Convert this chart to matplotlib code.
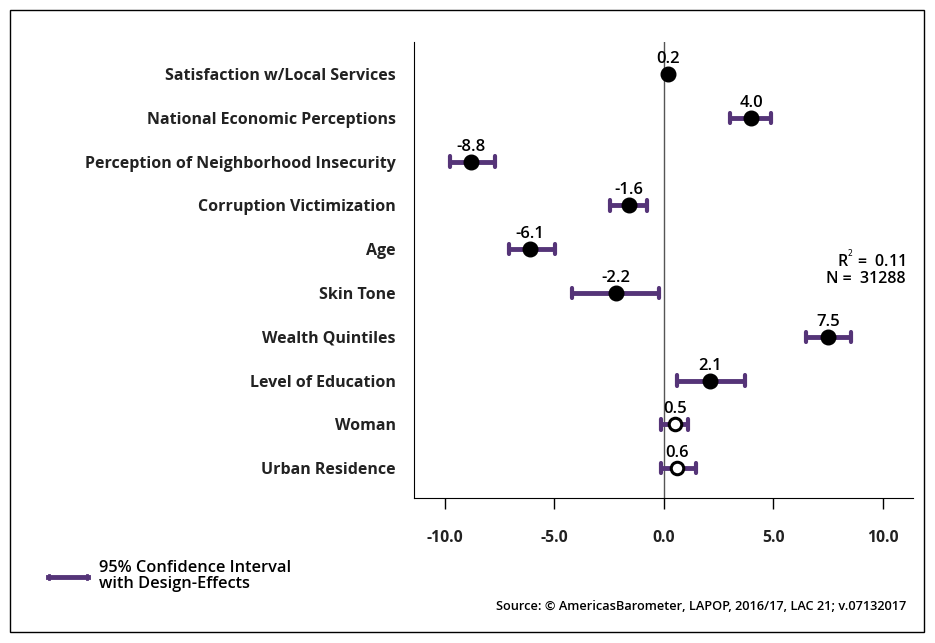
import matplotlib
matplotlib.use("Agg")
import matplotlib.pyplot as plt
from matplotlib.patches import Rectangle

plt.rcParams["font.family"] = ["Open Sans", "DejaVu Sans"]

variaveis = ["Satisfaction w/Local Services", "National Economic Perceptions",
             "Perception of Neighborhood Insecurity", "Corruption Victimization",
             "Age", "Skin Tone", "Wealth Quintiles", "Level of Education",
             "Woman", "Urban Residence"]
coef     = [0.2, 4.0, -8.8, -1.6, -6.1, -2.2, 7.5, 2.1, 0.5, 0.6]
ic_baixo = [0.2, 3.0, -9.74, -2.47, -7.08, -4.19, 6.48, 0.61, -0.15, -0.15]
ic_alto  = [0.2, 4.9, -7.7, -0.76, -4.95, -0.21, 8.54, 3.71, 1.10, 1.45]
significativo = [True, True, True, True, True, True, True, True, False, False]
ticks_x = [-10.0, -5.0, 0.0, 5.0, 10.0]

roxo = "#553478"

fig = plt.figure(figsize=(9.35, 6.43), dpi=100)
ax = fig.add_axes([414 / 935, 1 - 498 / 643, (913 - 414) / 935, (498 - 42) / 643])

ax.axvline(0, color="#555555", linewidth=1, zorder=1)

for i, (c, lo, hi, sig) in enumerate(zip(coef, ic_baixo, ic_alto, significativo)):
    if hi - lo > 0.01:
        ax.plot([lo, hi], [i, i], color=roxo, linewidth=3.5, solid_capstyle="butt", zorder=2)
        for xc in (lo, hi):
            ax.plot([xc, xc], [i - 0.12, i + 0.12], color=roxo, linewidth=3,
                    solid_capstyle="round", zorder=2)
    if sig:
        ax.plot(c, i, "o", markersize=10.5, color="black", zorder=3)
    else:
        ax.plot(c, i, "o", markersize=9, markerfacecolor="white",
                markeredgecolor="black", markeredgewidth=2.2, zorder=3)
    ax.annotate(f"{c:.1f}", (c, i), xytext=(0, 5), textcoords="offset points",
                ha="center", va="bottom", fontsize=12, fontweight="semibold")

ax.set_xlim(-11.4, 11.37)
ax.set_ylim(9.68, -0.73)
ax.set_yticks(range(len(variaveis)))
ax.set_yticklabels(variaveis, fontsize=11.5, fontweight="bold", color="#222222")
ax.tick_params(axis="y", length=0, pad=13)
ax.set_xticks(ticks_x)
ax.set_xticklabels([f"{t:.1f}" for t in ticks_x], fontsize=11.3, fontweight="bold",
                   color="#222222")
ax.tick_params(axis="x", length=8, width=1, pad=15, direction="out")
ax.spines["top"].set_visible(False)
ax.spines["right"].set_visible(False)

fig.text(906 / 935, 1 - 259 / 643, "R$^{^2}$ =  0.11", ha="right", va="center",
         fontsize=11.5, fontweight="semibold")
fig.text(906 / 935, 1 - 279 / 643, "N =  31288", ha="right", va="center",
         fontsize=11.5, fontweight="semibold")

# legenda
fig.add_artist(plt.Line2D([48 / 935, 88 / 935], [1 - 577 / 643, 1 - 577 / 643],
                          color=roxo, linewidth=3.5))
fig.add_artist(plt.Line2D([49 / 935, 49 / 935], [1 - 575 / 643, 1 - 579 / 643],
                          color=roxo, linewidth=2))
fig.add_artist(plt.Line2D([87 / 935, 87 / 935], [1 - 575 / 643, 1 - 579 / 643],
                          color=roxo, linewidth=2))
fig.text(99 / 935, 1 - 576 / 643, "95% Confidence Interval\nwith Design-Effects",
         ha="left", va="center", fontsize=11.8, fontweight="semibold", linespacing=1.05)

fig.text(906 / 935, 1 - 606 / 643,
         "Source: \u00a9 AmericasBarometer, LAPOP, 2016/17, LAC 21; v.07132017",
         ha="right", va="center", fontsize=9.2, fontweight="semibold")

fig.add_artist(Rectangle((10 / 935, 1 - 632 / 643), 914 / 935, 622 / 643,
                         transform=fig.transFigure, fill=False,
                         edgecolor="black", linewidth=1))

fig.savefig("out.png", dpi=100)
